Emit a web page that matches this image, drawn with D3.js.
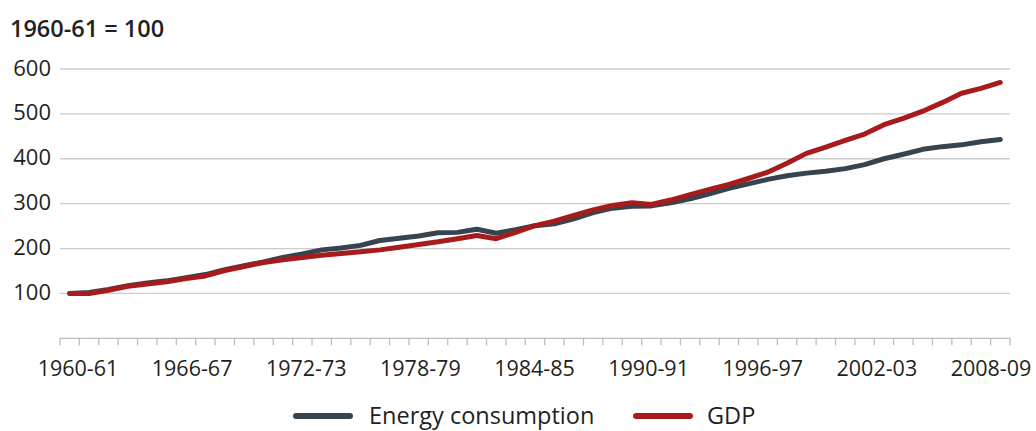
<!DOCTYPE html>
<html>
<head>
<meta charset="utf-8">
<script src="https://cdn.jsdelivr.net/npm/d3@7"></script>
<style>
  html, body { margin: 0; padding: 0; background: #fff; }
  svg { display: block; font-family: "Open Sans", sans-serif; }
</style>
</head>
<body>
<svg id="chart" width="1036" height="431"></svg>
<script>
const years = ["1960-61","1961-62","1962-63","1963-64","1964-65","1965-66","1966-67","1967-68","1968-69","1969-70",
  "1970-71","1971-72","1972-73","1973-74","1974-75","1975-76","1976-77","1977-78","1978-79","1979-80",
  "1980-81","1981-82","1982-83","1983-84","1984-85","1985-86","1986-87","1987-88","1988-89","1989-90",
  "1990-91","1991-92","1992-93","1993-94","1994-95","1995-96","1996-97","1997-98","1998-99","1999-00",
  "2000-01","2001-02","2002-03","2003-04","2004-05","2005-06","2006-07","2007-08","2008-09"];
const energy = [100,102,109,117,123,128,135,142,153,162,
  170,180,188,197,201,207,218,223,228,235,
  236,243,234,242,251,255,266,280,290,294,
  295,302,311,322,334,344,354,362,368,372,
  378,387,400,410,421,427,431,438,443];
const gdp = [100,100,107,116,121,126,133,139,151,160,
  169,175,180,185,189,193,197,203,209,215,
  222,229,222,236,251,261,274,286,296,302,
  298,308,320,332,343,356,370,390,412,426,
  441,455,476,490,506,525,546,557,570];
const tickLabels = ["1960-61","1966-67","1972-73","1978-79","1984-85","1990-91","1996-97","2002-03","2008-09"];
const yTicks = [100,200,300,400,500,600];
const seriesNames = ["Energy consumption","GDP"];
const colors = ["#35444f","#a81b1d"];

const svg = d3.select("#chart");
const mLeft = 60, mRight = 1010, mTop = 69, mBottom = 338.3;

const x = d3.scaleBand().domain(years).range([mLeft, mRight]).padding(0);
const y = d3.scaleLinear().domain([0, 600]).range([mBottom, mTop]);
const xLab = d3.scalePoint().domain(tickLabels).range([78, 991]);

// gridlines
svg.append("g").selectAll("line").data(yTicks).join("line")
  .attr("x1", mLeft).attr("x2", mRight)
  .attr("y1", d => y(d)).attr("y2", d => y(d))
  .attr("stroke", "#cccccc").attr("stroke-width", 1.3);

// y labels
svg.append("g").selectAll("text").data(yTicks).join("text")
  .attr("x", 51).attr("y", d => y(d)).attr("dy", "0.3em")
  .attr("text-anchor", "end").attr("font-size", 22).attr("fill", "#231f20")
  .text(d => d);

// title
svg.append("text").attr("x", 10).attr("y", 37)
  .attr("font-size", 23.5).attr("font-weight", 600).attr("fill", "#231f20")
  .text("1960-61 = 100");

// x axis
const ax = svg.append("g");
ax.append("line").attr("x1", mLeft).attr("x2", mRight).attr("y1", mBottom).attr("y2", mBottom)
  .attr("stroke", "#bdbdbd").attr("stroke-width", 1.3);
const tickPos = years.map(d => x(d)).concat([mRight]);
ax.selectAll("line.tick").data(tickPos).join("line").attr("class", "tick")
  .attr("x1", d => d).attr("x2", d => d).attr("y1", mBottom).attr("y2", mBottom + 7)
  .attr("stroke", "#bdbdbd").attr("stroke-width", 1.3);
ax.selectAll("text").data(tickLabels).join("text")
  .attr("x", d => xLab(d)).attr("y", 376)
  .attr("text-anchor", "middle").attr("font-size", 21.5).attr("fill", "#231f20")
  .text(d => d);

// lines
const line = d3.line().x((d, i) => x(years[i]) + x.bandwidth() / 2).y(d => y(d));
[energy, gdp].forEach((s, k) => {
  svg.append("path").datum(s).attr("d", line)
    .attr("fill", "none").attr("stroke", colors[k]).attr("stroke-width", 5)
    .attr("stroke-linejoin", "round").attr("stroke-linecap", "round");
});

// legend
const legendItems = [{name: seriesNames[0], x1: 296, x2: 350, tx: 369},
                     {name: seriesNames[1], x1: 636, x2: 690, tx: 707}];
const lg = svg.append("g");
legendItems.forEach((d, k) => {
  lg.append("line").attr("x1", d.x1).attr("x2", d.x2).attr("y1", 416).attr("y2", 416)
    .attr("stroke", colors[k]).attr("stroke-width", 6).attr("stroke-linecap", "round");
  lg.append("text").attr("x", d.tx).attr("y", 424).attr("font-size", 23.5).attr("fill", "#231f20")
    .text(d.name);
});
</script>
</body>
</html>
